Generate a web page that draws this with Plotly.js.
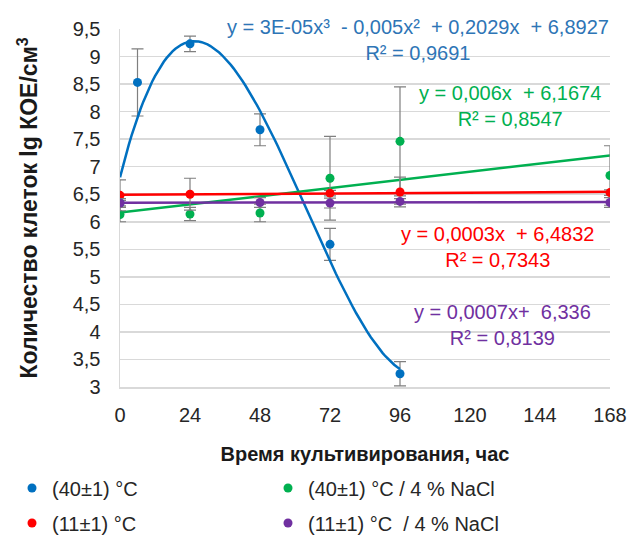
<!DOCTYPE html>
<html><head><meta charset="utf-8">
<script src="https://cdn.plot.ly/plotly-3.0.1.min.js"></script>
<style>html,body{margin:0;padding:0;background:#fff}#chart{width:630px;height:535px}</style>
</head><body><div id="chart"></div>
<script>
// ---- data ----
// (the 0 h point of the 40 °C series is hidden under the other markers)
const hoursBlue = [0, 6, 24, 48, 72, 96];
const valuesBlue = [6.34, 8.53, 9.23, 7.67, 5.59, 3.24];
const errorsBlue = [0.05, 0.61, 0.14, 0.29, 0.29, 0.22];

const hoursGreen = [0, 24, 48, 72, 96, 168];
const valuesGreen = [6.13, 6.14, 6.16, 6.79, 7.46, 6.84];
const errorsGreen = [0.13, 0.12, 0.16, 0.76, 0.99, 0.54];

const hoursRed = [0, 24, 72, 96, 168];
const valuesRed = [6.48, 6.50, 6.52, 6.54, 6.53];
const errorsRed = [0.28, 0.29, 0.05, 0.27, 0.05];

const hoursPurple = [0, 48, 72, 96, 168];
const valuesPurple = [6.34, 6.35, 6.34, 6.37, 6.35];
const errorsPurple = [0.08, 0.09, 0.09, 0.05, 0.09];

const seriesNames = ['(40±1) °C', '(40±1) °C / 4 % NaCl', '(11±1) °C', '(11±1) °C \u00a0/ 4 % NaCl'];
const xTickValues = [0, 24, 48, 72, 96, 120, 144, 168];
const equationBlue = ['y = 3E-05x³ \u00a0- 0,005x² \u00a0+ 0,2029x \u00a0+ 6,8927', 'R² = 0,9691'];
const equationGreen = ['y = 0,006x \u00a0+ 6,1674', 'R² = 0,8547'];
const equationRed = ['y = 0,0003x \u00a0+ 6,4832', 'R² = 0,7343'];
const equationPurple = ['y = 0,0007x+ \u00a06,336', 'R² = 0,8139'];
const xTitle = 'Время культивирования, час';
const yTitle = 'Количество клеток lg КОЕ/см<sup>3</sup>';

// ---- least-squares polynomial trendlines (as the spreadsheet does) ----
function polyfit(xs, ys, deg) {
  const n = deg + 1;
  const A = [], b = [];
  for (let i = 0; i < n; i++) {
    A.push([]);
    for (let j = 0; j < n; j++) A[i].push(xs.reduce((s, x) => s + Math.pow(x, i + j), 0));
    b.push(xs.reduce((s, x, k) => s + ys[k] * Math.pow(x, i), 0));
  }
  for (let c = 0; c < n; c++) {
    let p = c;
    for (let r = c + 1; r < n; r++) if (Math.abs(A[r][c]) > Math.abs(A[p][c])) p = r;
    [A[c], A[p]] = [A[p], A[c]]; [b[c], b[p]] = [b[p], b[c]];
    for (let r = c + 1; r < n; r++) {
      const f = A[r][c] / A[c][c];
      for (let k = c; k < n; k++) A[r][k] -= f * A[c][k];
      b[r] -= f * b[c];
    }
  }
  const coef = new Array(n).fill(0);
  for (let r = n - 1; r >= 0; r--) {
    let s = b[r];
    for (let k = r + 1; k < n; k++) s -= A[r][k] * coef[k];
    coef[r] = s / A[r][r];
  }
  return coef;
}
function trend(xs, ys, deg, x0, x1) {
  const c = polyfit(xs, ys, deg);
  const tx = [], ty = [];
  for (let x = x0; x <= x1; x += 1) {
    tx.push(x);
    ty.push(c.reduce((s, ci, i) => s + ci * Math.pow(x, i), 0));
  }
  return {x: tx, y: ty};
}

const cBlue = '#0070c0', cGreen = '#00b050', cRed = '#ff0000', cPurple = '#7030a0';
const errStyle = (arr) => ({type: 'data', array: arr, visible: true, color: '#7f7f7f', thickness: 1.2, width: 6});

const tBlue = trend(hoursBlue, valuesBlue, 3, 0, 96);
const tGreen = trend(hoursGreen, valuesGreen, 1, 0, 168);
const tRed = trend(hoursRed, valuesRed, 1, 0, 168);
const tPurple = trend(hoursPurple, valuesPurple, 1, 0, 168);

const lineTrace = (t, col) => ({x: t.x, y: t.y, mode: 'lines', line: {color: col, width: 2.5}, showlegend: false, hoverinfo: 'skip'});
const pointTrace = (xs, ys, es, col, name, lg) => ({x: xs, y: ys, name: name, mode: 'markers', legend: lg,
  marker: {color: col, size: 9}, error_y: errStyle(es)});

const data = [
  pointTrace(hoursBlue, valuesBlue, errorsBlue, cBlue, seriesNames[0], 'legend'),
  lineTrace(tBlue, cBlue), lineTrace(tGreen, cGreen), lineTrace(tRed, cRed), lineTrace(tPurple, cPurple),
  pointTrace(hoursGreen, valuesGreen, errorsGreen, cGreen, seriesNames[1], 'legend2'),
  pointTrace(hoursRed, valuesRed, errorsRed, cRed, seriesNames[2], 'legend3'),
  pointTrace(hoursPurple, valuesPurple, errorsPurple, cPurple, seriesNames[3], 'legend4')
];

const W = 630, H = 535, L = 120, R = 20, T = 29, B = 148;
const px = (x) => (x - L) / (W - L - R);
const py = (y) => (H - B - y) / (H - T - B);
const font = 'Liberation Sans, Arial, sans-serif';
const eq = (lines, col, x, y) => ({text: lines.join('<br>'), font: {color: col, size: 20, family: font},
  xref: 'paper', yref: 'paper', x: px(x), y: py(y), xanchor: 'center', yanchor: 'middle', showarrow: false, align: 'center'});

const legendAt = (textLeft, yCenter) => ({orientation: 'h', xref: 'container', yref: 'container',
  x: (textLeft - 40) / W, y: 1 - yCenter / H,
  xanchor: 'left', yanchor: 'middle', font: {size: 20, color: '#262626', family: font},
  bgcolor: 'rgba(0,0,0,0)'});

const layout = {
  width: W, height: H,
  margin: {l: L, r: R, t: T, b: B},
  separators: ', ',
  paper_bgcolor: '#fff', plot_bgcolor: '#fff',
  font: {family: font, color: '#262626', size: 20},
  xaxis: {range: [0, 168], tickvals: xTickValues, showgrid: false, zeroline: false,
    showline: true, linecolor: '#d9d9d9', linewidth: 1.5, ticks: '', ticklabelstandoff: 9,
    tickfont: {size: 20, color: '#262626'},
    title: {text: xTitle, font: {size: 20, weight: 'bold', color: '#1a1a1a'}, standoff: 22}},
  yaxis: {range: [3, 9.5], tick0: 3, dtick: 0.5, showgrid: true, gridcolor: '#d9d9d9', gridwidth: 1.5,
    zeroline: false, showline: true, linecolor: '#d9d9d9', linewidth: 1.5, ticks: '', ticklabelstandoff: 14,
    tickfont: {size: 20, color: '#262626'},
    title: {text: yTitle, font: {size: 23, weight: 'bold', color: '#1a1a1a'}, standoff: 28}},
  legend: legendAt(52, 488),
  legend2: legendAt(308, 488),
  legend3: legendAt(52, 523),
  legend4: legendAt(308, 523),
  annotations: [
    eq(equationBlue, '#2e75b6', 418, 39.5),
    eq(equationGreen, cGreen, 510, 105.5),
    eq(equationRed, cRed, 498, 246.5),
    eq(equationPurple, cPurple, 502, 325)
  ],
  showlegend: true
};

Plotly.newPlot('chart', data, layout, {displayModeBar: false, staticPlot: true});
</script></body></html>
